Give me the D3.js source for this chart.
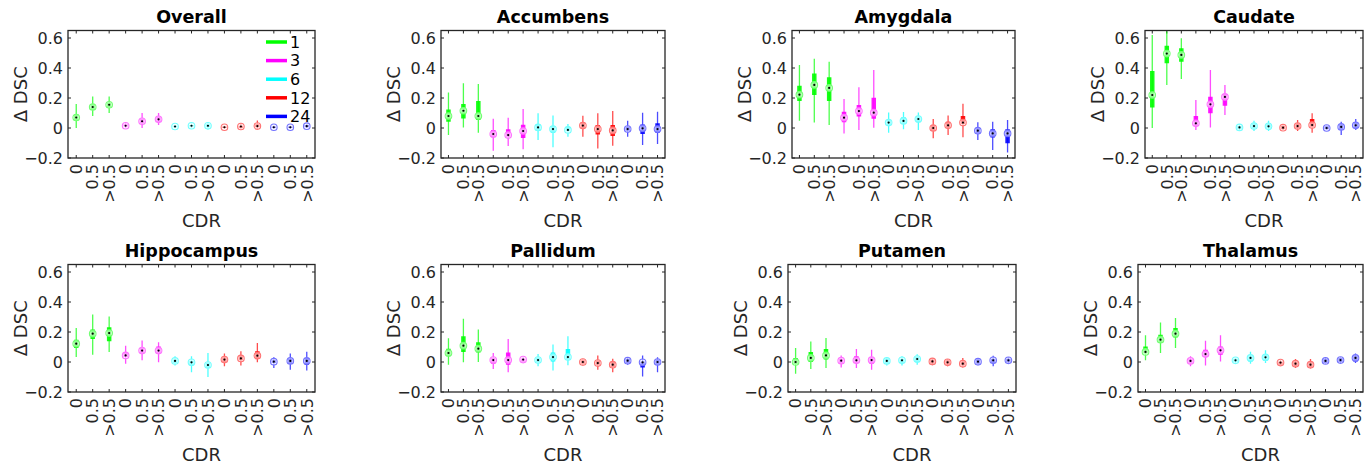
<!DOCTYPE html>
<html>
<head>
<meta charset="utf-8">
<script src="https://cdn.jsdelivr.net/npm/d3@7"></script>
<style>
body { margin: 0; background: #fff; }
text { font-family: "DejaVu Sans", sans-serif; fill: #262626; }
</style>
</head>
<body>
<svg id="chart" width="1371" height="466"></svg>
<script>
const regions = ["Overall", "Accumbens", "Amygdala", "Caudate", "Hippocampus", "Pallidum", "Putamen", "Thalamus"];
const cdrLabels = ["0", "0.5", ">0.5"];
const months = ["1", "3", "6", "12", "24"];
const yTicks = [-0.2, 0, 0.2, 0.4, 0.6];

// one row per box: [low whisker, q1, median, q3, high whisker]
// order: month 1 (CDR 0, 0.5, >0.5), month 3, month 6, month 12, month 24
const overall = [
  [0.00, 0.05, 0.07, 0.09, 0.16], [0.08, 0.12, 0.14, 0.16, 0.21], [0.10, 0.14, 0.155, 0.17, 0.21],
  [0.00, 0.01, 0.015, 0.025, 0.04], [0.00, 0.03, 0.045, 0.06, 0.10], [0.02, 0.04, 0.058, 0.075, 0.10],
  [0.00, 0.005, 0.01, 0.015, 0.02], [0.00, 0.01, 0.015, 0.02, 0.03], [-0.01, 0.005, 0.015, 0.025, 0.035],
  [-0.005, 0.00, 0.005, 0.01, 0.015], [-0.005, 0.00, 0.01, 0.015, 0.03], [-0.005, 0.005, 0.013, 0.025, 0.05],
  [-0.005, 0.00, 0.005, 0.01, 0.015], [-0.005, 0.00, 0.005, 0.01, 0.015], [0.00, 0.005, 0.012, 0.02, 0.025]
];
const accumbens = [
  [-0.047, 0.042, 0.08, 0.124, 0.236], [0.004, 0.064, 0.115, 0.16, 0.298], [-0.031, 0.053, 0.08, 0.18, 0.293],
  [-0.151, -0.062, -0.04, -0.013, 0.062], [-0.12, -0.058, -0.047, -0.009, 0.069], [-0.142, -0.067, -0.02, 0.022, 0.127],
  [-0.08, -0.018, 0.004, 0.027, 0.098], [-0.129, -0.031, -0.007, 0.013, 0.084], [-0.058, -0.022, -0.013, 0.009, 0.027],
  [-0.058, -0.002, 0.016, 0.036, 0.082], [-0.136, -0.044, -0.007, 0.02, 0.098], [-0.118, -0.053, -0.016, 0.02, 0.113],
  [-0.058, -0.018, -0.007, 0.009, 0.049], [-0.113, -0.04, -0.002, 0.024, 0.102], [-0.107, -0.031, -0.007, 0.031, 0.109]
];
const amygdala = [
  [0.049, 0.18, 0.222, 0.282, 0.42], [0.036, 0.22, 0.287, 0.364, 0.462], [0.02, 0.18, 0.267, 0.338, 0.442],
  [-0.036, 0.038, 0.069, 0.109, 0.193], [-0.013, 0.076, 0.113, 0.153, 0.271], [0.002, 0.062, 0.102, 0.202, 0.387],
  [-0.031, 0.02, 0.036, 0.053, 0.104], [-0.009, 0.027, 0.047, 0.071, 0.107], [-0.013, 0.038, 0.06, 0.076, 0.104],
  [-0.069, -0.02, 0.00, 0.02, 0.06], [-0.047, 0.002, 0.018, 0.042, 0.084], [-0.062, 0.027, 0.036, 0.08, 0.162],
  [-0.08, -0.036, -0.018, -0.002, 0.038], [-0.147, -0.064, -0.036, -0.009, 0.042], [-0.164, -0.102, -0.036, -0.009, 0.053]
];
const caudate = [
  [0.00, 0.136, 0.22, 0.38, 0.62], [0.287, 0.431, 0.496, 0.549, 0.645], [0.327, 0.442, 0.487, 0.531, 0.598],
  [-0.013, 0.013, 0.031, 0.08, 0.187], [0.004, 0.098, 0.158, 0.209, 0.387], [0.087, 0.149, 0.207, 0.227, 0.287],
  [-0.018, -0.009, 0.004, 0.013, 0.024], [-0.02, -0.002, 0.013, 0.031, 0.049], [-0.02, -0.002, 0.011, 0.029, 0.049],
  [-0.013, -0.009, 0.002, 0.013, 0.018], [-0.02, -0.002, 0.013, 0.031, 0.053], [-0.031, 0.009, 0.02, 0.06, 0.098],
  [-0.013, -0.009, 0.00, 0.011, 0.016], [-0.047, -0.013, 0.007, 0.024, 0.042], [-0.013, -0.002, 0.018, 0.038, 0.06]
];
const hippocampus = [
  [0.033, 0.093, 0.122, 0.149, 0.227], [0.049, 0.153, 0.189, 0.216, 0.316], [0.067, 0.138, 0.193, 0.231, 0.304],
  [-0.011, 0.033, 0.044, 0.064, 0.109], [0.011, 0.06, 0.076, 0.093, 0.144], [-0.002, 0.056, 0.076, 0.104, 0.131],
  [-0.024, -0.007, 0.007, 0.016, 0.038], [-0.069, -0.024, -0.002, 0.009, 0.038], [-0.10, -0.04, -0.02, -0.007, 0.06],
  [-0.029, 0.00, 0.016, 0.031, 0.056], [-0.024, 0.011, 0.024, 0.038, 0.071], [-0.002, 0.02, 0.042, 0.071, 0.127],
  [-0.04, -0.007, 0.002, 0.011, 0.031], [-0.051, -0.013, 0.007, 0.022, 0.056], [-0.056, -0.018, 0.007, 0.027, 0.069]
];
const pallidum = [
  [-0.018, 0.038, 0.06, 0.089, 0.158], [-0.002, 0.067, 0.109, 0.171, 0.289], [0.00, 0.064, 0.089, 0.131, 0.216],
  [-0.047, -0.011, 0.013, 0.027, 0.06], [-0.069, -0.018, 0.013, 0.064, 0.153], [-0.002, 0.002, 0.016, 0.024, 0.033],
  [-0.029, -0.002, 0.013, 0.027, 0.053], [-0.056, 0.004, 0.033, 0.064, 0.116], [-0.022, 0.016, 0.033, 0.087, 0.171],
  [-0.024, -0.011, 0.00, 0.011, 0.022], [-0.051, -0.018, -0.007, 0.009, 0.044], [-0.069, -0.033, -0.018, 0.00, 0.022],
  [-0.018, -0.007, 0.009, 0.02, 0.033], [-0.096, -0.036, -0.002, 0.004, 0.044], [-0.069, -0.018, 0.00, 0.016, 0.031]
];
const putamen = [
  [-0.078, -0.013, 0.00, 0.027, 0.093], [-0.047, 0.00, 0.027, 0.067, 0.136], [-0.04, 0.016, 0.044, 0.087, 0.16],
  [-0.036, -0.011, 0.009, 0.022, 0.044], [-0.04, -0.007, 0.011, 0.038, 0.087], [-0.051, -0.011, 0.013, 0.033, 0.082],
  [-0.024, -0.011, 0.007, 0.022, 0.031], [-0.024, -0.007, 0.011, 0.022, 0.038], [-0.018, -0.002, 0.02, 0.033, 0.051],
  [-0.022, -0.011, 0.004, 0.016, 0.027], [-0.029, -0.018, -0.002, 0.011, 0.02], [-0.036, -0.024, -0.011, 0.004, 0.027],
  [-0.022, -0.011, 0.002, 0.016, 0.022], [-0.029, -0.007, 0.011, 0.022, 0.042], [-0.013, -0.002, 0.011, 0.022, 0.031]
];
const thalamus = [
  [0.011, 0.056, 0.067, 0.104, 0.178], [0.06, 0.127, 0.149, 0.182, 0.264], [0.093, 0.164, 0.189, 0.227, 0.293],
  [-0.029, -0.011, 0.007, 0.02, 0.038], [-0.024, 0.033, 0.053, 0.082, 0.142], [0.004, 0.049, 0.078, 0.104, 0.178],
  [-0.009, 0.00, 0.011, 0.022, 0.029], [-0.011, 0.004, 0.027, 0.044, 0.069], [-0.007, 0.009, 0.031, 0.051, 0.078],
  [-0.022, -0.018, -0.004, 0.004, 0.011], [-0.04, -0.029, -0.011, 0.004, 0.02], [-0.044, -0.036, -0.018, -0.002, 0.02],
  [-0.011, -0.007, 0.007, 0.02, 0.027], [-0.007, 0.00, 0.013, 0.027, 0.031], [-0.007, 0.004, 0.027, 0.044, 0.056]
];
const allStats = [overall, accumbens, amygdala, caudate, hippocampus, pallidum, putamen, thalamus];

const colors = ["#00ff00", "#ff00ff", "#00ffff", "#ff0000", "#0000ff"];

// axes boxes [left, right, top, bottom]
const boxes = [
  [68, 315, 30.5, 158], [441, 665, 30.5, 158], [792, 1015, 30.5, 158], [1145, 1363, 30.5, 158],
  [68, 315, 264.5, 392], [441, 665, 264.5, 392], [788, 1016, 264.5, 392], [1138, 1363, 264.5, 392]
];

const svg = d3.select("#chart");
const categories = [];
months.forEach((m, mi) => cdrLabels.forEach((c, ci) => categories.push({key: m + "|" + c, label: c, group: mi})));

regions.forEach(function(name, p) {
  const [l, r, t, b] = boxes[p];
  const x = d3.scalePoint().domain(categories.map(d => d.key)).range([l, r]).padding(0.5);
  const y = d3.scaleLinear().domain([-0.2, 0.65]).range([b, t]);
  const g = svg.append("g");

  g.append("clipPath").attr("id", "clip" + p)
    .append("rect").attr("x", l).attr("y", t).attr("width", r - l).attr("height", b - t);

  // title
  g.append("text").attr("x", (l + r) / 2).attr("y", t - 7.5)
    .attr("text-anchor", "middle").style("font-weight", "bold").style("font-size", "17.5px")
    .style("fill", "#000").text(name);

  // y tick labels
  g.selectAll(".ytl").data(yTicks).enter().append("text")
    .attr("x", l - 5).attr("y", d => y(d)).attr("dy", "0.36em")
    .attr("text-anchor", "end").style("font-size", "16px")
    .text(d => d3.format("")(+d.toFixed(1)));

  // x tick labels, rotated
  g.selectAll(".xtl").data(categories).enter().append("text")
    .attr("transform", d => "translate(" + x(d.key) + "," + (b + 6) + ") rotate(-90)")
    .attr("dy", "0.36em").attr("text-anchor", "end").style("font-size", "16px")
    .text(d => d.label);

  // axis labels
  g.append("text").attr("transform", "translate(" + (l - 47) + "," + ((t + b) / 2) + ") rotate(-90)")
    .attr("dy", "0.35em").attr("text-anchor", "middle").style("font-size", "18px").text("\u0394 DSC");
  g.append("text").attr("x", (l + r) / 2 + 10).attr("y", b + 69)
    .attr("text-anchor", "middle").style("font-size", "18px").text("CDR");

  // ticks inside the frame
  const tk = g.append("g").attr("stroke", "#262626").attr("stroke-width", 1);
  categories.forEach(d => {
    tk.append("line").attr("x1", x(d.key)).attr("x2", x(d.key)).attr("y1", b).attr("y2", b - 3);
    tk.append("line").attr("x1", x(d.key)).attr("x2", x(d.key)).attr("y1", t).attr("y2", t + 3);
  });
  yTicks.forEach(v => {
    tk.append("line").attr("x1", l).attr("x2", l + 3).attr("y1", y(v)).attr("y2", y(v));
    tk.append("line").attr("x1", r).attr("x2", r - 3).attr("y1", y(v)).attr("y2", y(v));
  });

  // boxes
  const plot = g.append("g").attr("clip-path", "url(#clip" + p + ")");
  const stats = allStats[p];
  categories.forEach(function(c, i) {
    const s = stats[i];
    const col = colors[c.group];
    const cx = x(c.key);
    plot.append("line").attr("x1", cx).attr("x2", cx).attr("y1", y(s[0])).attr("y2", y(s[4]))
      .attr("stroke", col).attr("stroke-width", 1.3).attr("stroke-opacity", 0.7);
    plot.append("line").attr("x1", cx).attr("x2", cx).attr("y1", y(s[1])).attr("y2", y(s[3]))
      .attr("stroke", col).attr("stroke-width", 4.5).attr("stroke-opacity", 0.9);
    plot.append("circle").attr("cx", cx).attr("cy", y(s[2])).attr("r", 3.3)
      .attr("fill", "#fff").attr("fill-opacity", 0.55)
      .attr("stroke", d3.interpolateRgb(col, "#ffffff")(0.45)).attr("stroke-width", 1.1);
    plot.append("circle").attr("cx", cx).attr("cy", y(s[2])).attr("r", 1.1).attr("fill", "#000");
  });

  // frame
  g.append("rect").attr("x", l).attr("y", t).attr("width", r - l).attr("height", b - t)
    .attr("fill", "none").attr("stroke", "#262626").attr("stroke-width", 1.3);

  // legend on the first panel
  if (p === 0) {
    const lg = g.append("g");
    months.forEach((m, i) => {
      const ly = t + 11.5 + i * 18.6;
      lg.append("line").attr("x1", r - 49).attr("x2", r - 28).attr("y1", ly).attr("y2", ly)
        .attr("stroke", colors[i]).attr("stroke-width", 3.5);
      lg.append("text").attr("x", r - 25).attr("y", ly).attr("dy", "0.36em")
        .style("font-size", "16px").style("fill", "#000").text(m);
    });
  }
});
</script>
</body>
</html>
